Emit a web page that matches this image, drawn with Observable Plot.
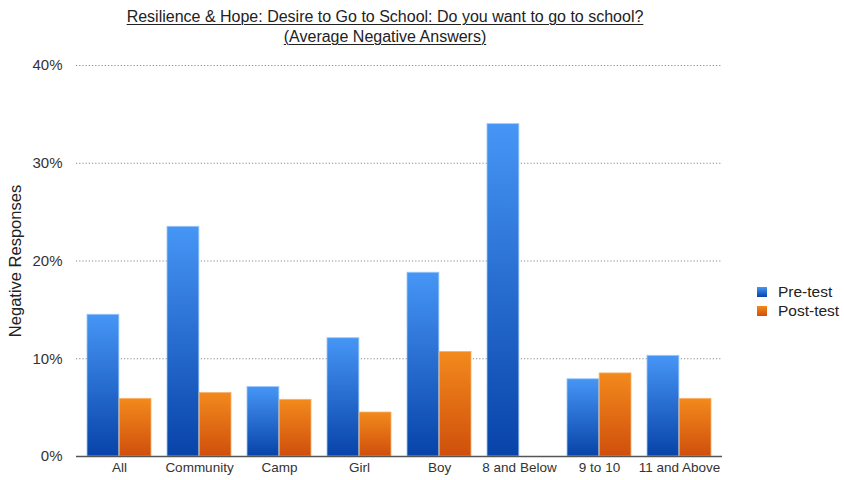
<!DOCTYPE html>
<html>
<head>
<meta charset="utf-8">
<script src="https://cdn.jsdelivr.net/npm/d3@7"></script>
<script src="https://cdn.jsdelivr.net/npm/@observablehq/plot@0.6"></script>
<style>
  html, body { margin: 0; padding: 0; background: #fff; }
  #wrap { position: relative; width: 844px; height: 480px; font-family: "Liberation Sans", Arial, Helvetica, sans-serif; }
  #title { position: absolute; left: 0; top: 7px; width: 770px; text-align: center; font-size: 16px; line-height: 20px; color: #222; }
  #title span { text-decoration: underline; text-decoration-thickness: 1px; text-underline-offset: 2px; }
  #chart { position: absolute; left: 0; top: 50px; }
  #legend { position: absolute; left: 757px; top: 282px; font-size: 15.5px; color: #222; }
  .li { display: flex; align-items: center; height: 19px; }
  .sw { width: 10px; height: 10px; margin-right: 11px; }
</style>
</head>
<body>
<div id="wrap">
  <div id="title"><span>Resilience &amp; Hope: Desire to Go to School: Do you want to go to school?</span><br><span>(Average Negative Answers)</span></div>
  <div id="chart"></div>
  <div id="legend"></div>
</div>
<script>
const categories = ["All", "Community", "Camp", "Girl", "Boy", "8 and Below", "9 to 10", "11 and Above"];
const seriesNames = ["Pre-test", "Post-test"];
const preTest = [14.5, 23.5, 7.1, 12.1, 18.8, 34.0, 7.9, 10.3];
const postTest = [5.9, 6.5, 5.8, 4.5, 10.7, null, 8.5, 5.9];
const yTicks = [0, 10, 20, 30, 40];
const gridTicks = [10, 20, 30, 40];
const yLabel = "Negative Responses";

const preRows = categories.map((c, i) => ({category: c, series: seriesNames[0], value: preTest[i]})).filter(d => d.value != null);
const postRows = categories.map((c, i) => ({category: c, series: seriesNames[1], value: postTest[i]})).filter(d => d.value != null);

const W = 844, H = 430, ML = 76, MR = 122, MT = 15, MB = 24;
const PI = 0.2, PO = 0.12;
const step = (W - ML - MR) / (categories.length - PI + 2 * PO);
const half = step * (1 - PI) / 2;

const gradients = [
  {id: "gPre", top: "#4696f6", bottom: "#0843a8"},
  {id: "gPost", top: "#f38a1c", bottom: "#cf4f0c"}
];

function defsMark() {
  const defs = d3.create("svg:defs");
  for (const g of gradients) {
    const lg = defs.append("linearGradient").attr("id", g.id).attr("x1", 0).attr("y1", 0).attr("x2", 0).attr("y2", 1);
    lg.append("stop").attr("offset", "0%").attr("stop-color", g.top);
    lg.append("stop").attr("offset", "100%").attr("stop-color", g.bottom);
  }
  return defs.node();
}

const chart = Plot.plot({
  width: W, height: H,
  marginLeft: ML, marginRight: MR, marginTop: MT, marginBottom: MB,
  style: {fontFamily: '"Liberation Sans", Arial, Helvetica, sans-serif', color: "#333", background: "#fff"},
  x: {domain: categories, paddingInner: PI, paddingOuter: PO, label: null},
  y: {domain: [0, 40], label: null},
  marks: [
    defsMark,
    Plot.ruleY(gridTicks, {stroke: "#8a8a8a", strokeWidth: 1, strokeDasharray: "1.2,2"}),
    Plot.barY(preRows, {x: "category", y: "value", fill: "url(#gPre)", insetRight: half, stroke: "#9cc6fa", strokeWidth: 0.8}),
    Plot.barY(postRows, {x: "category", y: "value", fill: "url(#gPost)", insetLeft: half, stroke: "#f7b26a", strokeWidth: 0.8}),
    Plot.ruleY([0], {stroke: "#555", strokeWidth: 1.5}),
    Plot.axisX({tickSize: 0, tickPadding: 6, fontSize: 13.5, label: null, fill: "#333"}),
    Plot.axisY({ticks: yTicks, tickFormat: d => d + "%", tickSize: 0, tickPadding: 14, fontSize: 15, label: null, fill: "#333"}),
    Plot.text([yLabel], {frameAnchor: "left", dx: -61, rotate: -90, textAnchor: "middle", fontSize: 16.5, fill: "#222"})
  ]
});
document.getElementById("chart").appendChild(chart);

const legend = document.getElementById("legend");
seriesNames.forEach((s, i) => {
  const row = document.createElement("div");
  row.className = "li";
  const sw = document.createElement("div");
  sw.className = "sw";
  sw.style.background = `linear-gradient(${gradients[i].top}, ${gradients[i].bottom})`;
  row.appendChild(sw);
  row.appendChild(document.createTextNode(s));
  legend.appendChild(row);
});
</script>
</body>
</html>
